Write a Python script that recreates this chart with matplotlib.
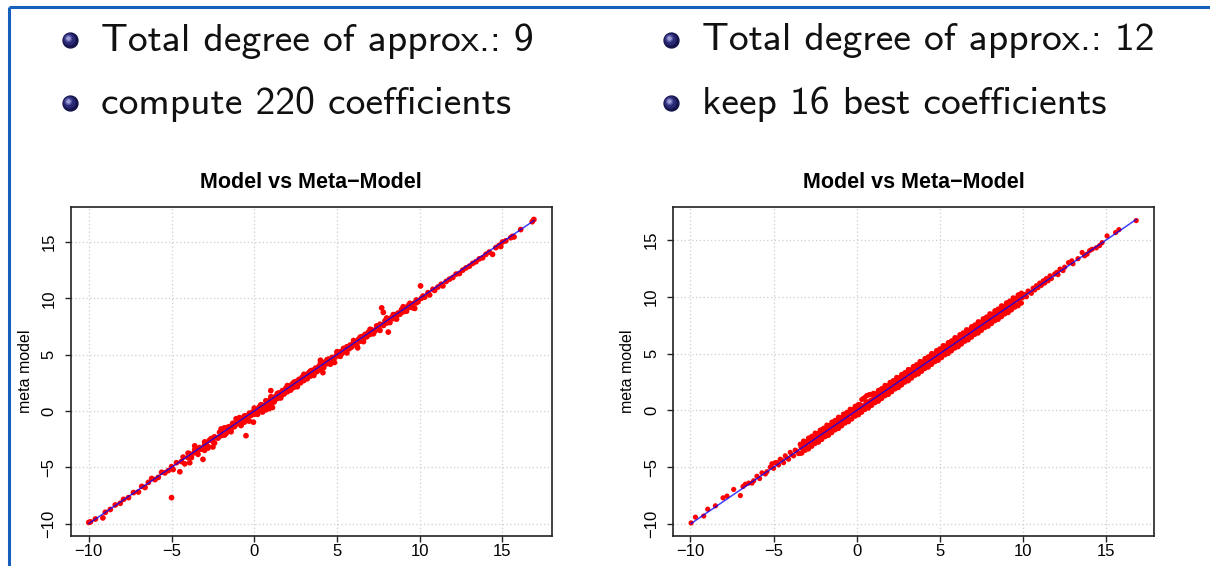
import matplotlib
matplotlib.use("Agg")
import matplotlib.pyplot as plt

plt.rcParams['font.family'] = ['Liberation Sans', 'DejaVu Sans']

# slide text
bullets_left = ["Total degree of approx.: 9", "compute 220 coefficients"]
bullets_right = ["Total degree of approx.: 12", "keep 16 best coefficients"]
plot_title = "Model vs Meta\u2212Model"
y_label = "meta model"
ticks = [-10, -5, 0, 5, 10, 15]

# left panel: model vs meta-model, degree 9 (220 coefficients)
model_1 = [-10.0, -9.9, -9.6, -9.15, -9.0, -8.7, -8.4, -8.1, -7.9, -7.6,
           -7.3, -7.0, -6.8, -6.6, -6.4, -6.2, -6.0, -5.8, -5.6, -5.4,
           -5.2, -5.0, -5.0, -4.9, -4.7, -4.5, -4.4, -4.3, -4.2, -4.0,
           -3.9, -3.9, -3.8, -3.6, -3.6, -3.4, -3.3, -3.1, -3.0, -3.0,
           -2.9, -2.8, -2.7, -2.5, -2.5, -2.4, -2.2, -2.1, -2.0, -2.0,
           -1.9, -1.8, -1.7, -1.6, -1.5, -1.4, -1.3, -1.2, -1.1, -1.1,
           -1.0, -0.9, -0.9, -0.8, -0.7, -0.6, -0.6, -0.5, -0.5, -0.4,
           -0.3, -0.3, -0.2, -0.1, -0.05, 0.0, 0.1, 0.2, 0.2, 0.3,
           0.4, 0.5, 0.5, 0.6, 0.7, 0.7, 0.8, 0.8, 0.9, 0.9,
           1.0, 1.0, 1.0, 1.1, 1.1, 1.2, 1.3, 1.4, 1.5, 1.6,
           1.7, 1.8, 1.9, 2.0, 2.1, 2.2, 2.3, 2.4, 2.5, 2.6,
           2.7, 2.8, 2.9, 3.0, 3.1, 3.2, 3.3, 3.4, 3.5, 3.6,
           3.7, 3.8, 3.9, 4.0, 4.0, 4.15, 4.2, 4.3, 4.4, 4.5,
           4.6, 4.7, 4.85, 4.9, 5.0, 5.1, 5.2, 5.3, 5.4, 5.5,
           5.6, 5.7, 5.8, 5.9, 6.0, 6.1, 6.25, 6.3, 6.4, 6.5,
           6.6, 6.7, 6.8, 6.9, 7.0, 7.1, 7.2, 7.3, 7.4, 7.5,
           7.6, 7.7, 7.8, 7.8, 7.9, 8.0, 8.1, 8.2, 8.3, 8.4,
           8.5, 8.6, 8.7, 8.8, 8.9, 9.0, 9.1, 9.2, 9.3, 9.4,
           9.5, 9.7, 9.7, 9.8, 9.9, 10.05, 10.1, 10.2, 10.3, 10.5,
           10.6, 10.8, 10.9, 11.1, 11.3, 11.4, 11.6, 11.8, 12.0, 12.2,
           12.4, 12.6, 12.8, 13.0, 13.2, 13.4, 13.6, 13.8, 14.0, 14.2,
           14.4, 14.6, 14.8, 14.9, 15.0, 15.2, 15.5, 15.6, 15.7, 16.1,
           16.8, 16.9,
           -4.0, -3.8, -3.6, -3.4, -3.2, -3.0, -2.8, -2.6, -2.4, -2.2,
           -2.0, -1.8, -1.6, -1.4, -1.2, -1.0, -0.8, -0.6, -0.4, -0.2,
           0.0, 0.2, 0.4, 0.6, 0.8, 1.0, 1.2, 1.4, 1.6, 1.8,
           2.0, 2.2, 2.4, 2.6, 2.8, 3.0, 3.2, 3.4, 3.6, 3.8,
           4.0, 4.2, 4.4, 4.6, 4.8, 5.0, 5.2, 5.4, 5.6, 5.8,
           6.0, 6.2, 6.4, 6.6, 6.8, 7.0, 7.2, 7.4, 7.6, 7.8,
           8.0, 8.2, 8.4, 8.6, 8.8, 9.0, 9.2, 9.4, 9.6, 9.8]
meta_1 = [-9.9, -9.85, -9.6, -9.5, -9.0, -8.75, -8.35, -8.2, -7.85, -7.7,
          -7.25, -7.2, -6.7, -6.8, -6.35, -6.0, -6.1, -5.9, -5.45, -5.5,
          -5.3, -7.7, -4.95, -5.2, -4.6, -5.4, -4.5, -4.1, -4.7, -4.15,
          -3.8, -4.6, -4.0, -3.1, -3.7, -3.5, -3.25, -4.3, -3.05, -3.5,
          -2.8, -3.3, -2.6, -2.7, -3.2, -2.3, -2.4, -1.9, -2.2, -1.6,
          -2.0, -1.5, -2.0, -1.7, -1.4, -1.6, -1.1, -1.35, -0.7, -1.2,
          -0.8, -1.0, -0.6, -1.3, -0.75, -0.5, -1.0, -2.2, -0.45, -0.6,
          -0.2, -0.9, -0.25, -0.1, -1.0, -0.3, 0.0, 0.1, -0.3, 0.35,
          0.2, 0.5, -0.1, 0.4, 0.9, 0.1, 0.6, 0.3, 0.9, 0.2,
          1.8, 0.5, 1.0, 0.3, 1.2, 0.8, 1.3, 1.1, 1.6, 1.3,
          1.8, 1.5, 2.0, 1.7, 2.2, 1.9, 2.4, 2.1, 2.6, 2.2,
          2.8, 2.5, 3.0, 2.7, 3.2, 3.0, 3.4, 3.1, 3.6, 3.3,
          3.8, 3.5, 3.95, 4.5, 3.7, 3.4, 4.1, 4.35, 4.2, 4.6,
          4.4, 4.75, 4.3, 4.8, 5.05, 4.9, 5.25, 5.1, 5.5, 5.3,
          5.7, 5.5, 5.85, 5.7, 6.05, 5.9, 5.6, 6.35, 6.2, 6.6,
          6.4, 6.8, 6.6, 7.0, 6.8, 7.2, 7.0, 7.1, 7.5, 7.3,
          7.7, 9.15, 8.75, 7.6, 8.0, 7.8, 7.0, 8.1, 8.3, 8.2,
          8.55, 8.4, 8.7, 8.6, 9.0, 8.8, 9.1, 9.0, 9.35, 9.2,
          9.5, 9.1, 9.6, 9.85, 9.7, 11.1, 10.0, 10.2, 10.1, 10.5,
          10.3, 10.8, 10.7, 11.0, 11.25, 11.1, 11.5, 11.7, 11.85, 12.15,
          12.2, 12.5, 12.7, 12.85, 13.1, 13.25, 13.5, 13.6, 13.9, 14.1,
          13.9, 14.5, 14.7, 14.6, 15.0, 15.1, 15.38, 15.5, 15.45, 16.1,
          16.8, 17.0,
          -3.75, -4.15, -3.45, -3.85, -3.4, -2.75, -3.15, -2.45, -2.85, -2.4,
          -1.75, -2.15, -1.45, -1.85, -1.4, -0.75, -1.15, -0.45, -0.85, -0.4,
          0.25, -0.15, 0.55, 0.15, 0.6, 1.25, 0.85, 1.55, 1.15, 1.6,
          2.25, 1.85, 2.55, 2.15, 2.6, 3.25, 2.85, 3.55, 3.15, 3.6,
          4.25, 3.85, 4.55, 4.15, 4.6, 5.25, 4.85, 5.55, 5.15, 5.6,
          6.25, 5.85, 6.55, 6.15, 6.6, 7.25, 6.85, 7.55, 7.15, 7.6,
          8.25, 7.85, 8.55, 8.15, 8.6, 9.25, 8.85, 9.55, 9.15, 9.6]

# right panel: model vs meta-model, degree 12 (16 best coefficients)
model_2 = [
    -9.96, -9.7, -9.2, -8.96, -8.5, -8.04, -7.8, -7.4, -7.0, -6.84,
    -6.7, -6.5, -6.3, -6.2, -6.0, -5.84, -5.7, -5.5, -5.4, -5.2,
    -5.1, -5.0, -4.9, -4.8, -4.7, -4.6, -4.5, -4.4, -4.3, -4.2,
    -4.1, -4.0, -3.9, -3.8, -3.7, -3.6, -3.5,
    -3.4, -3.4, -3.35, -3.3, -3.3, -3.25, -3.2, -3.2, -3.15, -3.1, -3.1, -3.05, -3.0, -3.0, -2.95,
    -2.9, -2.9, -2.85, -2.8, -2.8, -2.75, -2.7, -2.7, -2.65, -2.6, -2.6, -2.55, -2.5, -2.5, -2.45,
    -2.4, -2.4, -2.35, -2.3, -2.3, -2.25, -2.2, -2.2, -2.15, -2.1, -2.1, -2.05, -2.0, -2.0, -1.95,
    -1.9, -1.9, -1.85, -1.8, -1.8, -1.75, -1.7, -1.7, -1.65, -1.6, -1.6, -1.55, -1.5, -1.5, -1.45,
    -1.4, -1.4, -1.35, -1.3, -1.3, -1.25, -1.2, -1.2, -1.15, -1.1, -1.1, -1.05, -1.0, -1.0, -0.95,
    -0.9, -0.9, -0.85, -0.8, -0.8, -0.75, -0.7, -0.7, -0.65, -0.6, -0.6, -0.55, -0.5, -0.5, -0.45,
    -0.4, -0.4, -0.35, -0.3, -0.3, -0.25, -0.2, -0.2, -0.15, -0.1, -0.1, -0.05, 0.0, 0.0, 0.05,
    0.1, 0.1, 0.15, 0.2, 0.2, 0.25, 0.3, 0.3, 0.35, 0.4, 0.4, 0.45, 0.5, 0.5, 0.55,
    0.6, 0.6, 0.65, 0.7, 0.7, 0.75, 0.8, 0.8, 0.85, 0.9, 0.9, 0.95, 1.0, 1.0, 1.05,
    1.1, 1.1, 1.15, 1.2, 1.2, 1.25, 1.3, 1.3, 1.35, 1.4, 1.4, 1.45, 1.5, 1.5, 1.55,
    1.6, 1.6, 1.65, 1.7, 1.7, 1.75, 1.8, 1.8, 1.85, 1.9, 1.9, 1.95, 2.0, 2.0, 2.05,
    2.1, 2.1, 2.15, 2.2, 2.2, 2.25, 2.3, 2.3, 2.35, 2.4, 2.4, 2.45, 2.5, 2.5, 2.55,
    2.6, 2.6, 2.65, 2.7, 2.7, 2.75, 2.8, 2.8, 2.85, 2.9, 2.9, 2.95, 3.0, 3.0, 3.05,
    3.1, 3.1, 3.15, 3.2, 3.2, 3.25, 3.3, 3.3, 3.35, 3.4, 3.4, 3.45, 3.5, 3.5, 3.55,
    3.6, 3.6, 3.65, 3.7, 3.7, 3.75, 3.8, 3.8, 3.85, 3.9, 3.9, 3.95, 4.0, 4.0, 4.05,
    4.1, 4.1, 4.15, 4.2, 4.2, 4.25, 4.3, 4.3, 4.35, 4.4, 4.4, 4.45, 4.5, 4.5, 4.55,
    4.6, 4.6, 4.65, 4.7, 4.7, 4.75, 4.8, 4.8, 4.85, 4.9, 4.9, 4.95, 5.0, 5.0, 5.05,
    5.1, 5.1, 5.15, 5.2, 5.2, 5.25, 5.3, 5.3, 5.35, 5.4, 5.4, 5.45, 5.5, 5.5, 5.55,
    5.6, 5.6, 5.65, 5.7, 5.7, 5.75, 5.8, 5.8, 5.85, 5.9, 5.9, 5.95, 6.0, 6.0, 6.05,
    6.1, 6.1, 6.15, 6.2, 6.2, 6.25, 6.3, 6.3, 6.35, 6.4, 6.4, 6.45, 6.5, 6.5, 6.55,
    6.6, 6.6, 6.65, 6.7, 6.7, 6.75, 6.8, 6.8, 6.85, 6.9, 6.9, 6.95, 7.0, 7.0, 7.05,
    7.1, 7.1, 7.15, 7.2, 7.2, 7.25, 7.3, 7.3, 7.35, 7.4, 7.4, 7.45, 7.5, 7.5, 7.55,
    7.6, 7.6, 7.65, 7.7, 7.7, 7.75, 7.8, 7.8, 7.85, 7.9, 7.9, 7.95, 8.0, 8.0, 8.05,
    8.1, 8.1, 8.15, 8.2, 8.2, 8.25, 8.3, 8.3, 8.35, 8.4, 8.4, 8.45, 8.5, 8.5, 8.55,
    8.6, 8.6, 8.65, 8.7, 8.7, 8.75, 8.8, 8.8, 8.85, 8.9, 8.9, 8.95, 9.0, 9.0, 9.05,
    9.1, 9.1, 9.15, 9.2, 9.2, 9.25, 9.3, 9.3, 9.35, 9.4, 9.4, 9.45, 9.5, 9.5, 9.55,
    9.6, 9.6, 9.65, 9.7, 9.7, 9.75, 9.8, 9.8, 9.85, 9.9, 9.9, 9.95,
    10.1, 10.2, 10.3, 10.4, 10.5, 10.6, 10.7, 10.8, 10.9, 11.0,
    11.1, 11.21, 11.3, 11.4, 11.5, 11.62, 11.7, 11.9, 12.02, 12.1,
    12.22, 12.4, 12.5, 12.73, 12.93, 13.0, 13.3, 13.55, 13.7, 13.85,
    14.0, 14.15, 14.4, 14.6, 14.75, 15.05, 15.56, 15.76, 16.8]
meta_2 = [
    -9.91, -9.4, -9.3, -8.7, -8.4, -7.7, -7.55, -6.96, -7.5, -6.7,
    -6.5, -6.4, -6.4, -6.2, -5.8, -6.0, -5.5, -5.6, -5.4, -5.0,
    -4.7, -5.1, -4.6, -4.6, -4.8, -4.3, -4.4, -4.6, -4.0, -4.2,
    -4.3, -3.7, -3.9, -4.0, -3.5, -3.6, -3.8,
    -2.98, -3.78, -3.25, -3.00, -3.76, -3.39, -2.70, -3.50, -3.11, -2.74, -3.52, -3.11, -2.74, -3.34, -2.77,
    -2.44, -3.40, -2.75, -2.42, -3.18, -2.89, -2.28, -3.16, -2.61, -2.30, -2.90, -2.61, -2.00, -2.92, -2.27,
    -2.04, -2.74, -2.25, -2.04, -2.80, -2.39, -1.74, -2.58, -2.11, -1.72, -2.56, -2.11, -1.58, -2.30, -1.77,
    -1.60, -2.32, -1.75, -1.30, -2.14, -1.89, -1.34, -2.20, -1.61, -1.34, -1.98, -1.61, -1.04, -1.96, -1.27,
    -1.02, -1.70, -1.25, -0.88, -1.72, -1.39, -0.90, -1.54, -1.11, -0.60, -1.60, -1.11, -0.64, -1.38, -0.77,
    -0.64, -1.36, -0.75, -0.34, -1.10, -0.89, -0.32, -1.12, -0.61, -0.18, -0.94, -0.61, -0.20, -1.00, -0.27,
    0.10, -0.78, -0.25, 0.06, -0.76, -0.39, 0.06, -0.50, -0.11, 0.36, -0.52, -0.11, 0.38, -0.34, 0.23,
    0.52, -0.40, 0.25, 0.50, -0.18, 0.11, 0.95, -0.16, 0.39, 1.05, 0.10, 0.39, 1.15, 0.08, 0.73,
    1.30, 0.26, 0.75, 1.35, 0.20, 0.61, 1.40, 0.42, 0.89, 1.35, 0.44, 0.89, 1.50, 0.70, 1.23,
    1.46, 0.68, 1.25, 1.46, 0.86, 1.11, 1.76, 0.80, 1.39, 1.78, 1.02, 1.39, 1.92, 1.04, 1.73,
    1.90, 1.30, 1.75, 2.20, 1.28, 1.61, 2.16, 1.46, 1.89, 2.16, 1.40, 1.89, 2.46, 1.62, 2.23,
    2.48, 1.64, 2.25, 2.62, 1.90, 2.11, 2.60, 1.88, 2.39, 2.90, 2.06, 2.39, 2.86, 2.00, 2.73,
    2.86, 2.22, 2.75, 3.16, 2.24, 2.61, 3.18, 2.50, 2.89, 3.32, 2.48, 2.89, 3.30, 2.66, 3.23,
    3.60, 2.60, 3.25, 3.56, 2.82, 3.11, 3.56, 2.84, 3.39, 3.86, 3.10, 3.39, 3.88, 3.08, 3.73,
    4.02, 3.26, 3.75, 4.00, 3.20, 3.61, 4.30, 3.42, 3.89, 4.26, 3.44, 3.89, 4.26, 3.70, 4.23,
    4.56, 3.68, 4.25, 4.58, 3.86, 4.11, 4.72, 3.80, 4.39, 4.70, 4.02, 4.39, 5.00, 4.04, 4.73,
    4.96, 4.30, 4.75, 4.96, 4.28, 4.61, 5.26, 4.46, 4.89, 5.28, 4.40, 4.89, 5.42, 4.62, 5.23,
    5.40, 4.64, 5.25, 5.70, 4.90, 5.11, 5.66, 4.88, 5.39, 5.66, 5.06, 5.39, 5.96, 5.00, 5.73,
    5.98, 5.22, 5.75, 6.12, 5.24, 5.61, 6.10, 5.50, 5.89, 6.40, 5.48, 5.89, 6.36, 5.66, 6.23,
    6.36, 5.60, 6.25, 6.66, 5.82, 6.11, 6.68, 5.84, 6.39, 6.82, 6.10, 6.39, 6.80, 6.08, 6.73,
    7.10, 6.26, 6.75, 7.06, 6.20, 6.61, 7.06, 6.42, 6.89, 7.36, 6.44, 6.89, 7.38, 6.70, 7.23,
    7.52, 6.68, 7.25, 7.50, 6.86, 7.11, 7.80, 6.80, 7.39, 7.76, 7.02, 7.39, 7.76, 7.04, 7.73,
    8.06, 7.30, 7.75, 8.08, 7.28, 7.61, 8.22, 7.46, 7.89, 8.20, 7.40, 7.89, 8.50, 7.62, 8.23,
    8.46, 7.64, 8.25, 8.46, 7.90, 8.11, 8.76, 7.88, 8.39, 8.78, 8.06, 8.39, 8.92, 8.00, 8.73,
    8.90, 8.22, 8.75, 9.20, 8.24, 8.61, 9.16, 8.50, 8.89, 9.16, 8.48, 8.89, 9.46, 8.66, 9.23,
    9.48, 8.60, 9.25, 9.62, 8.82, 9.11, 9.60, 8.84, 9.39, 9.90, 9.10, 9.39, 9.86, 9.08, 9.73,
    9.86, 9.26, 9.75, 10.16, 9.20, 9.61, 10.18, 9.42, 9.89, 10.32, 9.44, 9.89,
    10.2, 10.0, 10.5, 10.39, 10.3, 10.75, 10.6, 10.97, 10.8, 11.2,
    11.0, 11.4, 11.2, 11.6, 11.4, 11.84, 11.6, 12.0, 12.14, 11.95,
    12.43, 12.3, 12.6, 13.0, 13.16, 12.9, 13.35, 13.89, 13.6, 13.75,
    14.05, 14.18, 14.3, 14.5, 14.76, 15.35, 15.65, 15.9, 16.7]

W, H = 1210, 566
fig = plt.figure(figsize=(W / 100, H / 100), dpi=100)

# overlay in pixel coordinates for the slide decoration
slide = fig.add_axes([0, 0, 1, 1])
slide.set_xlim(0, W)
slide.set_ylim(H, 0)
slide.axis('off')

# beamer frame lines
slide.plot([9, W], [6.5, 6.5], color="#1560bd", lw=2.2, solid_capstyle='butt')
slide.plot([9, 9], [6.5, H], color="#1560bd", lw=2.2, solid_capstyle='butt')


def ball(x, y):
    # shaded beamer bullet
    slide.scatter([x], [y], s=115, color="#14144a", zorder=3)
    slide.scatter([x - 1.0], [y - 1.0], s=60, color="#2a2a74", zorder=4)
    slide.scatter([x - 1.8], [y - 1.8], s=20, color="#5252a0", zorder=5)
    slide.scatter([x - 2.3], [y - 2.3], s=5, color="#9a9ad4", zorder=6)


line_y = [40, 103]
for col_x, lines in [(70, bullets_left), (671, bullets_right)]:
    for yy, txt in zip(line_y, lines):
        ball(col_x, yy)
        slide.text(col_x + 31, yy + 1, txt, family=['cmss10', 'DejaVu Sans'],
                   fontsize=28.5, va='center', ha='left', color="#111111")

ax1 = fig.add_axes([71 / W, 1 - 535.7 / H, (551.7 - 71) / W, (535.7 - 207.3) / H])
ax2 = fig.add_axes([673.3 / W, 1 - 535.7 / H, (1154 - 673.3) / W, (535.7 - 207.3) / H])


def panel(ax, model, meta, size):
    ax.scatter(model, meta, s=size, color="red", edgecolors="none", zorder=3)
    lo, hi = min(model), max(model)
    ax.plot([lo, hi], [lo, hi], color="blue", lw=1.1, alpha=0.75, zorder=4)
    ax.margins(0.04)
    ax.set_xticks(ticks)
    ax.set_yticks(ticks)
    ax.grid(True, color="#cfcfcf", linestyle=(0, (1, 2)), lw=0.9)
    ax.set_axisbelow(True)
    for sp in ax.spines.values():
        sp.set_linewidth(1.2)
        sp.set_color("#222222")
    ax.tick_params(length=4.3, width=1, color="#222222", labelsize=12)
    ax.tick_params(axis='x', pad=1.5)
    ax.tick_params(axis='y', pad=6, labelrotation=90)
    for lab in ax.get_yticklabels():
        lab.set_verticalalignment('center')
    ax.set_title(plot_title, fontweight="bold", fontsize=15.5, pad=14)
    ax.set_ylabel(y_label, fontsize=11.5)
    ax.yaxis.set_label_coords(-0.08, 0.5)


panel(ax1, model_1, meta_1, 17)
panel(ax2, model_2, meta_2, 14)

fig.savefig("out.png", dpi=100)
